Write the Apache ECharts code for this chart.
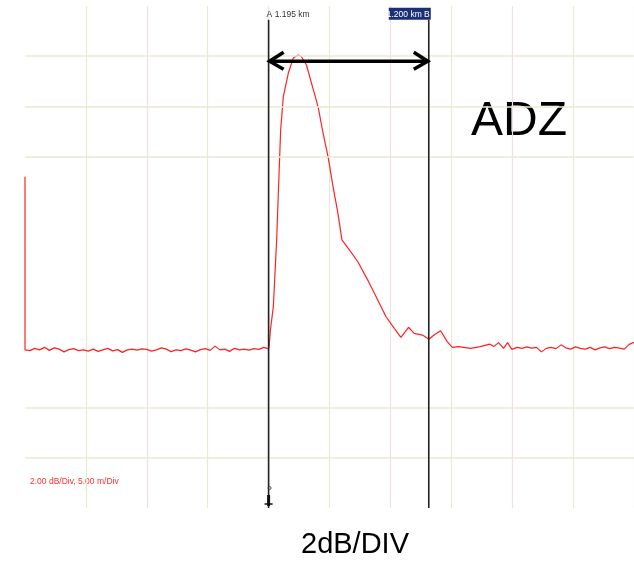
<!DOCTYPE html>
<html>
<head>
<meta charset="utf-8">
<script src="https://cdn.jsdelivr.net/npm/echarts@6/dist/echarts.min.js"></script>
<style>
html,body{margin:0;padding:0;background:#fff;}
#chart{width:634px;height:561px;}
</style>
</head>
<body>
<div id="chart"></div>
<script>
// distance along fibre (m, 5 m/div) and level (dB, 2 dB/div)
const distM = [
  0, 0, 0.4, 0.8, 1.2, 1.6, 2.0, 2.4, 2.8, 3.2, 3.6, 4.0, 4.4, 4.8, 5.2, 5.6, 6.0, 6.4, 6.8, 7.2, 7.6,
  8.0, 8.4, 8.8, 9.2, 9.6, 10.0, 10.4, 10.8, 11.2, 11.6, 12.0, 12.4, 12.8, 13.2, 13.6, 14.0, 14.4,
  14.8, 15.2, 15.6, 16.0, 16.4, 16.8, 17.2, 17.6, 18.0, 18.4, 18.8, 19.2, 19.6, 20.0,
  20.04, 20.15, 20.39, 20.66, 20.86, 20.99, 21.21, 21.62, 22.03, 22.43, 22.70, 23.11, 23.52, 24.06,
  24.47, 24.88, 25.29, 25.69, 26.02, 26.51, 27.33, 28.14, 28.96, 29.64, 30.32, 30.86, 31.49, 31.95,
  32.63, 33.17, 33.58, 34.12, 34.67, 35.08, 35.62, 36.57, 37.38, 38.15, 38.48, 38.88, 39.29, 39.62,
  39.97, 40.4, 40.8, 41.2, 41.6, 42.0, 42.4, 42.8, 43.2, 43.6, 44.0, 44.4, 44.8, 45.2, 45.6, 46.0,
  46.4, 46.8, 47.2, 47.6, 48.0, 48.4, 48.8, 49.2, 49.6, 50.0
];
const levelDb = [
  13.2, 6.30, 6.27, 6.36, 6.30, 6.40, 6.28, 6.38, 6.33, 6.22, 6.31, 6.35, 6.27, 6.30, 6.25, 6.33, 6.24, 6.30, 6.36, 6.26, 6.31,
  6.20, 6.30, 6.33, 6.29, 6.34, 6.32, 6.25, 6.30, 6.38, 6.33, 6.23, 6.30, 6.27, 6.34, 6.29, 6.22, 6.31,
  6.35, 6.28, 6.45, 6.30, 6.33, 6.24, 6.36, 6.30, 6.33, 6.29, 6.35, 6.32, 6.40, 6.34,
  6.43, 7.09, 8.02, 10.68, 13.35, 15.06, 16.39, 17.33, 17.93, 18.05, 17.98, 17.65, 16.93, 15.99,
  14.94, 14.00, 12.80, 11.75, 10.68, 10.36, 9.81, 9.08, 8.29, 7.62, 7.16, 6.80, 7.20, 6.96,
  6.89, 6.72, 6.89, 7.06, 6.63, 6.40, 6.43, 6.36, 6.43, 6.53, 6.43, 6.59, 6.36, 6.59,
  6.32, 6.40, 6.36, 6.42, 6.37, 6.40, 6.22, 6.36, 6.40, 6.35, 6.50, 6.38, 6.33, 6.42, 6.36, 6.33,
  6.40, 6.30, 6.38, 6.42, 6.35, 6.40, 6.37, 6.33, 6.52, 6.60
];
// horizontal graticule lines that the instrument shows (dB)
const gridLevels = [2, 4, 14, 16, 18];
const cursorA = 20.0;      // m
const cursorB = 33.15;     // m
const cursorLabelA = 'A 1.195 km';
const cursorLabelB = '1.200 km B';
const arrowLevel = 17.8;   // dB
const cursorTop = 19.45;   // dB
const scaleNote = '2.00 dB/Div, 5.00 m/Div';
const title = 'ADZ';
const unitText = '2dB/DIV';

const trace = distM.map((d, i) => [d, levelDb[i]]);

const chart = echarts.init(document.getElementById('chart'), null, {renderer: 'canvas'});
const gridY = '#eae9d4';
const gridPink = '#ede1e1';

chart.setOption({
  animation: false,
  backgroundColor: '#ffffff',
  grid: {left: 25, top: 6, width: 613, height: 502, containLabel: false},
  xAxis: {
    type: 'value', min: 0, max: 50, interval: 5,
    axisLine: {show: false}, axisTick: {show: false}, axisLabel: {show: false},
    splitLine: {show: true, showMinLine: false, lineStyle: {color: [gridY, gridPink], width: 1.2}}
  },
  yAxis: {
    type: 'value', min: 0, max: 20, interval: 2,
    axisLine: {show: false}, axisTick: {show: false}, axisLabel: {show: false},
    splitLine: {show: false}
  },
  graphic: [
    {type: 'text', left: 471, top: 98, style: {text: title, font: '48px "Liberation Sans", Arial, sans-serif', fill: '#000'}},
    {type: 'text', left: 301, top: 530, style: {text: unitText, font: '29px "Liberation Sans", Arial, sans-serif', fill: '#000'}},
    {type: 'text', left: 30, top: 477, style: {text: scaleNote, font: '8.5px "Liberation Sans", Arial, sans-serif', fill: '#ff3030'}}
  ],
  series: [
    {
      type: 'line', data: [], z: 1, silent: true,
      markLine: {
        silent: true, symbol: ['none', 'none'], label: {show: false},
        lineStyle: {color: gridY, width: 1.5, type: 'solid'},
        data: gridLevels.map(v => ({yAxis: v}))
      }
    },
    {
      type: 'line', data: trace, showSymbol: false, symbol: 'none',
      lineStyle: {color: '#ff2222', width: 1.2}, z: 3
    },
    {
      type: 'custom', z: 5,
      data: [[cursorA, cursorB, arrowLevel, cursorTop]],
      renderItem: function (params, api) {
        const a = api.value(0), b = api.value(1), ay = api.value(2), top = api.value(3);
        const aTop = api.coord([a, top]), aBot = api.coord([a, 0]);
        const bTop = api.coord([b, top]), bBot = api.coord([b, 0]);
        const l = api.coord([a, ay]), r = api.coord([b, ay]);
        const children = [
          {type: 'line', shape: {x1: aTop[0], y1: aTop[1], x2: aBot[0], y2: aBot[1]}, style: {stroke: '#222', lineWidth: 1.6}},
          {type: 'line', shape: {x1: bTop[0], y1: bTop[1], x2: bBot[0], y2: bBot[1]}, style: {stroke: '#222', lineWidth: 1.6}},
          {type: 'line', shape: {x1: l[0] + 2, y1: l[1], x2: r[0] - 2, y2: r[1]}, style: {stroke: '#000', lineWidth: 3.5}},
          {type: 'polyline', shape: {points: [[l[0] + 15, l[1] - 9], [l[0] + 1, l[1]], [l[0] + 15, l[1] + 8]]}, style: {stroke: '#000', lineWidth: 3.5, fill: null, lineJoin: 'miter'}},
          {type: 'polyline', shape: {points: [[r[0] - 15, r[1] - 9], [r[0] - 1, r[1]], [r[0] - 15, r[1] + 8]]}, style: {stroke: '#000', lineWidth: 3.5, fill: null, lineJoin: 'miter'}},
          {type: 'text', x: aTop[0] - 2, y: aTop[1] - 1, style: {text: cursorLabelA, font: '8.5px "Liberation Sans", Arial, sans-serif', fill: '#333', textAlign: 'left', textVerticalAlign: 'bottom'}},
          {type: 'rect', shape: {x: bTop[0] - 40, y: bTop[1] - 12, width: 42, height: 12}, style: {fill: '#1d2f74'}},
          {type: 'text', x: bTop[0] + 1, y: bTop[1] - 1, style: {text: cursorLabelB, font: '8.5px "Liberation Sans", Arial, sans-serif', fill: '#fff', textAlign: 'right', textVerticalAlign: 'bottom'}},
          {type: 'rect', shape: {x: aBot[0] - 1.5, y: aBot[1] - 13, width: 3, height: 11}, style: {fill: '#111'}},
          {type: 'line', shape: {x1: aBot[0] - 4, y1: aBot[1] - 4, x2: aBot[0] + 4, y2: aBot[1] - 4}, style: {stroke: '#111', lineWidth: 1.5}},
          {type: 'circle', shape: {cx: aBot[0] + 1, cy: aBot[1] - 20, r: 1.5}, style: {fill: 'none', stroke: '#333', lineWidth: 0.8}}
        ];
        return {type: 'group', children: children};
      }
    }
  ]
});
</script>
</body>
</html>
